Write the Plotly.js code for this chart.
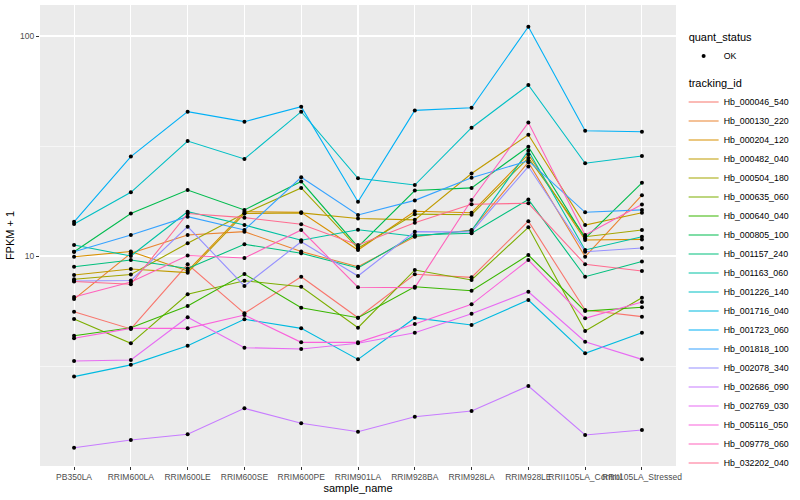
<!DOCTYPE html>
<html><head><meta charset="utf-8">
<script src="https://cdn.plot.ly/plotly-3.0.1.min.js"></script>
<style>html,body{margin:0;padding:0;background:#fff}#chart{width:800px;height:500px}</style>
</head><body><div id="chart"></div>
<script>
const samples = ["PB350LA","RRIM600LA","RRIM600LE","RRIM600SE","RRIM600PE","RRIM901LA","RRIM928BA","RRIM928LA","RRIM928LE","RRII105LA_Control","RRII105LA_Stressed"];
const trackingIds = ["Hb_000046_540","Hb_000130_220","Hb_000204_120","Hb_000482_040","Hb_000504_180","Hb_000635_060","Hb_000640_040","Hb_000805_100","Hb_001157_240","Hb_001163_060","Hb_001226_140","Hb_001716_040","Hb_001723_060","Hb_001818_100","Hb_002078_340","Hb_002686_090","Hb_002769_030","Hb_005116_050","Hb_009778_060","Hb_032202_040"];
const colors = ["#F8766D","#EA8331","#D89000","#C09B00","#A3A500","#7CAE00","#39B600","#00BB4E","#00BF7D","#00C1A3","#00BFC4","#00BAE0","#00B0F6","#35A2FF","#9590FF","#C77CFF","#E76BF3","#FA62DB","#FF62BC","#FF6C90"];

const hb_000046_540 = [5.58, 4.66, 9.17, 5.49, 8.05, 5.24, 8.26, 8.0, 14.4, 5.68, 5.30];
const hb_000130_220 = [6.37, 10.29, 12.46, 12.9, 10.48, 8.94, 12.24, 13.13, 26.7, 9.93, 18.9];
const hb_000204_120 = [9.93, 10.48, 8.55, 15.9, 15.8, 10.65, 15.97, 15.73, 29.0, 11.82, 11.9];
const hb_000482_040 = [8.2, 8.73, 8.4, 15.6, 15.7, 14.8, 14.6, 23.7, 35.6, 13.83, 15.73];
const hb_000504_180 = [7.84, 8.24, 11.42, 15.6, 20.4, 10.84, 15.5, 15.4, 27.9, 12.24, 13.13];
const hb_000635_060 = [5.17, 4.01, 6.70, 7.72, 7.25, 4.72, 8.64, 7.78, 13.5, 4.56, 6.46];
const hb_000640_040 = [4.34, 4.72, 5.93, 8.28, 5.82, 5.24, 7.25, 6.95, 10.1, 5.62, 5.85];
const hb_000805_100 = [10.46, 15.6, 19.95, 16.2, 21.8, 11.0, 19.85, 20.4, 31.4, 12.04, 21.5];
const hb_001157_240 = [8.94, 9.59, 8.77, 11.31, 10.29, 8.82, 12.46, 12.68, 18.06, 8.05, 9.44];
const hb_001163_060 = [11.22, 10.0, 15.9, 13.83, 11.79, 13.17, 12.3, 13.06, 30.1, 10.65, 12.24];
const hb_001226_140 = [13.98, 19.48, 33.3, 27.6, 45.3, 22.55, 21.02, 38.3, 59.9, 26.4, 28.5];
const hb_001716_040 = [2.83, 3.20, 3.91, 5.16, 4.69, 3.39, 5.23, 4.86, 6.31, 3.61, 4.48];
const hb_001723_060 = [14.3, 28.3, 45.3, 40.8, 47.7, 17.65, 45.9, 47.2, 110.2, 37.1, 36.7];
const hb_001818_100 = [10.46, 12.46, 15.09, 13.13, 22.8, 15.36, 17.9, 22.7, 27.1, 15.8, 16.2];
const hb_002078_340 = [7.70, 7.74, 13.6, 7.31, 11.61, 8.11, 12.9, 12.86, 25.5, 10.46, 10.87];
const hb_002686_090 = [1.345, 1.458, 1.547, 2.03, 1.736, 1.59, 1.86, 1.975, 2.566, 1.536, 1.618];
const hb_002769_030 = [3.33, 3.37, 5.27, 3.83, 3.78, 4.01, 4.48, 5.47, 6.88, 4.08, 3.39];
const hb_005116_050 = [4.23, 4.69, 4.69, 5.39, 4.05, 4.05, 4.91, 6.03, 9.59, 5.21, 6.18];
const hb_009778_060 = [6.51, 7.62, 10.05, 9.79, 13.13, 7.21, 7.18, 17.97, 40.4, 12.46, 17.14];
const hb_032202_040 = [7.66, 7.44, 15.6, 14.94, 13.95, 11.22, 14.17, 17.2, 17.36, 9.17, 8.55];

const series = [hb_000046_540, hb_000130_220, hb_000204_120, hb_000482_040, hb_000504_180, hb_000635_060, hb_000640_040, hb_000805_100, hb_001157_240, hb_001163_060, hb_001226_140, hb_001716_040, hb_001723_060, hb_001818_100, hb_002078_340, hb_002686_090, hb_002769_030, hb_005116_050, hb_009778_060, hb_032202_040];

const traces = trackingIds.map((id, i) => ({
  type: 'scatter', mode: 'lines', x: samples, y: series[i], name: id,
  line: {color: colors[i], width: 1.1},
  legendgroup: 'tracking_id', legendgrouptitle: {text: 'tracking_id'},
  legendrank: 10 + i, hoverinfo: 'skip'
}));
const okX = [], okY = [];
series.forEach(s => s.forEach((v, j) => { okX.push(samples[j]); okY.push(v); }));
traces.push({
  type: 'scatter', mode: 'markers', x: okX, y: okY, name: 'OK',
  marker: {color: 'black', size: 4},
  legendgroup: 'quant_status', legendgrouptitle: {text: 'quant_status'},
  legendrank: 1, hoverinfo: 'skip'
});

const layout = {
  width: 800, height: 500,
  margin: {l: 40, r: 117, t: 5, b: 34},
  paper_bgcolor: 'white', plot_bgcolor: '#EBEBEB',
  font: {family: 'Liberation Sans, Arial, sans-serif', size: 9, color: '#000'},
  xaxis: {
    type: 'category', range: [-0.6, 10.6], showgrid: true, gridcolor: 'white', gridwidth: 1.1,
    ticks: 'outside', ticklen: 3, tickcolor: '#333333', tickangle: 0,
    tickfont: {size: 8.5, color: '#4D4D4D'},
    title: {text: 'sample_name', font: {size: 11}, standoff: 2},
    zeroline: false, showline: false, automargin: false
  },
  yaxis: {
    type: 'log', range: [0.0455, 2.1409], tickvals: [10, 100], ticktext: ['10', '100'],
    showgrid: true, gridcolor: 'white', gridwidth: 1.1,
    minor: {tickvals: [3.1623, 31.623], showgrid: true, gridcolor: 'white', gridwidth: 0.55, ticks: ''},
    ticks: 'outside', ticklen: 3, tickcolor: '#333333',
    tickfont: {size: 8.5, color: '#4D4D4D'},
    title: {text: 'FPKM + 1', font: {size: 11}, standoff: 3},
    zeroline: false, showline: false, automargin: false
  },
  legend: {
    x: 1.012, y: 0.962, xanchor: 'left', yanchor: 'top', traceorder: 'grouped',
    tracegroupgap: 8, font: {size: 8.8}, itemwidth: 30,
    grouptitlefont: {size: 11}, bgcolor: 'rgba(0,0,0,0)'
  },
  showlegend: true
};
Plotly.newPlot('chart', traces, layout, {staticPlot: true, displayModeBar: false});
</script></body></html>
